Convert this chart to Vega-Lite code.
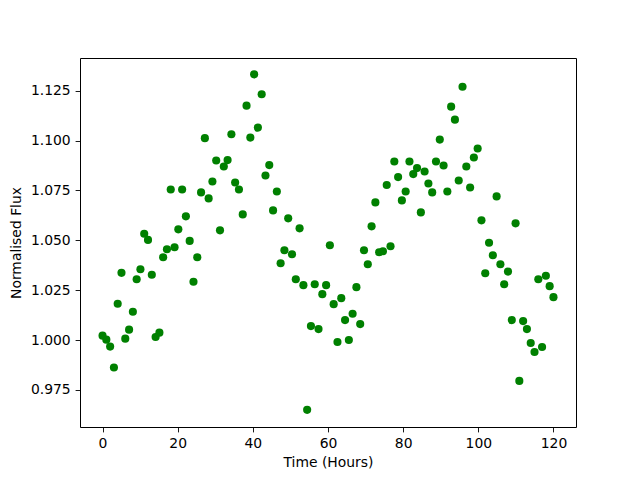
{
  "$schema": "https://vega.github.io/schema/vega-lite/v6.json",
  "width": 496,
  "height": 369,
  "autosize": {"type": "none"},
  "padding": {"left": 80, "top": 58, "right": 64, "bottom": 53},
  "background": "white",
  "config": {
    "view": {"stroke": "black", "strokeWidth": 1},
    "axis": {
      "domain": false,
      "grid": false,
      "ticks": true,
      "tickColor": "black",
      "tickSize": 4.9,
      "tickWidth": 0.9,
      "labelFont": "DejaVu Sans",
      "labelFontSize": 13.9,
      "labelColor": "black",
      "labelPadding": 4.9,
      "labelFlush": false,
      "labelOverlap": false,
      "titleFont": "DejaVu Sans",
      "titleFontSize": 13.9,
      "titleFontWeight": "normal",
      "titleColor": "black"
    }
  },
  "data": {
    "values": [
      {"t": 0, "f": 1.0022}, {"t": 1.01, "f": 1.0002}, {"t": 2.02, "f": 0.9967}, {"t": 3.03, "f": 0.9862},
      {"t": 4.03, "f": 1.0182}, {"t": 5.04, "f": 1.0337}, {"t": 6.05, "f": 1.0007}, {"t": 7.06, "f": 1.0052},
      {"t": 8.07, "f": 1.0142}, {"t": 9.08, "f": 1.0305}, {"t": 10.08, "f": 1.0355}, {"t": 11.09, "f": 1.0533},
      {"t": 12.1, "f": 1.0502}, {"t": 13.11, "f": 1.0327}, {"t": 14.12, "f": 1.0015}, {"t": 15.13, "f": 1.0037},
      {"t": 16.13, "f": 1.0415}, {"t": 17.14, "f": 1.0455}, {"t": 18.15, "f": 1.0755}, {"t": 19.16, "f": 1.0465},
      {"t": 20.17, "f": 1.0555}, {"t": 21.18, "f": 1.0755}, {"t": 22.18, "f": 1.062}, {"t": 23.19, "f": 1.0497},
      {"t": 24.2, "f": 1.0292}, {"t": 25.21, "f": 1.0415}, {"t": 26.22, "f": 1.074}, {"t": 27.23, "f": 1.1012},
      {"t": 28.24, "f": 1.071}, {"t": 29.24, "f": 1.0795}, {"t": 30.25, "f": 1.09}, {"t": 31.26, "f": 1.055},
      {"t": 32.27, "f": 1.087}, {"t": 33.28, "f": 1.0902}, {"t": 34.29, "f": 1.1032}, {"t": 35.29, "f": 1.079},
      {"t": 36.3, "f": 1.0755}, {"t": 37.31, "f": 1.063}, {"t": 38.32, "f": 1.1175}, {"t": 39.33, "f": 1.1015},
      {"t": 40.34, "f": 1.1332}, {"t": 41.34, "f": 1.1065}, {"t": 42.35, "f": 1.1232}, {"t": 43.36, "f": 1.0825},
      {"t": 44.37, "f": 1.0877}, {"t": 45.38, "f": 1.065}, {"t": 46.39, "f": 1.0745}, {"t": 47.39, "f": 1.0385},
      {"t": 48.4, "f": 1.045}, {"t": 49.41, "f": 1.061}, {"t": 50.42, "f": 1.043}, {"t": 51.43, "f": 1.0305},
      {"t": 52.44, "f": 1.056}, {"t": 53.45, "f": 1.0275}, {"t": 54.45, "f": 0.965}, {"t": 55.46, "f": 1.007},
      {"t": 56.47, "f": 1.028}, {"t": 57.48, "f": 1.0055}, {"t": 58.49, "f": 1.023}, {"t": 59.5, "f": 1.0275},
      {"t": 60.5, "f": 1.0475}, {"t": 61.51, "f": 1.018}, {"t": 62.52, "f": 0.999}, {"t": 63.53, "f": 1.021},
      {"t": 64.54, "f": 1.01}, {"t": 65.55, "f": 1.0}, {"t": 66.55, "f": 1.0132}, {"t": 67.56, "f": 1.0265},
      {"t": 68.57, "f": 1.008}, {"t": 69.58, "f": 1.045}, {"t": 70.59, "f": 1.038}, {"t": 71.6, "f": 1.057},
      {"t": 72.61, "f": 1.069}, {"t": 73.61, "f": 1.044}, {"t": 74.62, "f": 1.0445}, {"t": 75.63, "f": 1.0777},
      {"t": 76.64, "f": 1.047}, {"t": 77.65, "f": 1.0895}, {"t": 78.66, "f": 1.0817}, {"t": 79.66, "f": 1.07},
      {"t": 80.67, "f": 1.0745}, {"t": 81.68, "f": 1.0895}, {"t": 82.69, "f": 1.0832}, {"t": 83.7, "f": 1.0862},
      {"t": 84.71, "f": 1.064}, {"t": 85.71, "f": 1.0845}, {"t": 86.72, "f": 1.0785}, {"t": 87.73, "f": 1.074},
      {"t": 88.74, "f": 1.0895}, {"t": 89.75, "f": 1.1005}, {"t": 90.76, "f": 1.0875}, {"t": 91.76, "f": 1.0745},
      {"t": 92.77, "f": 1.117}, {"t": 93.78, "f": 1.1105}, {"t": 94.79, "f": 1.08}, {"t": 95.8, "f": 1.127},
      {"t": 96.81, "f": 1.087}, {"t": 97.82, "f": 1.0765}, {"t": 98.82, "f": 1.0915}, {"t": 99.83, "f": 1.096},
      {"t": 100.84, "f": 1.06}, {"t": 101.85, "f": 1.0335}, {"t": 102.86, "f": 1.0488}, {"t": 103.87, "f": 1.0425},
      {"t": 104.87, "f": 1.072}, {"t": 105.88, "f": 1.038}, {"t": 106.89, "f": 1.028}, {"t": 107.9, "f": 1.0343},
      {"t": 108.91, "f": 1.01}, {"t": 109.92, "f": 1.0585}, {"t": 110.92, "f": 0.9795}, {"t": 111.93, "f": 1.0095},
      {"t": 112.94, "f": 1.0055}, {"t": 113.95, "f": 0.9985}, {"t": 114.96, "f": 0.994}, {"t": 115.97, "f": 1.0305},
      {"t": 116.97, "f": 0.9965}, {"t": 117.98, "f": 1.0322}, {"t": 118.99, "f": 1.027}, {"t": 120, "f": 1.0215}
    ]
  },
  "mark": {"type": "point", "filled": true, "shape": "circle", "size": 66, "color": "#008000", "opacity": 1},
  "encoding": {
    "x": {
      "field": "t",
      "type": "quantitative",
      "scale": {"domain": [-6, 126], "nice": false, "zero": false},
      "axis": {"values": [0, 20, 40, 60, 80, 100, 120], "title": "Time (Hours)", "titlePadding": 5}
    },
    "y": {
      "field": "f",
      "type": "quantitative",
      "scale": {"domain": [0.9564, 1.1414], "nice": false, "zero": false},
      "axis": {"values": [0.975, 1.0, 1.025, 1.05, 1.075, 1.1, 1.125], "format": ".3f", "title": "Normalised Flux", "titlePadding": 7}
    }
  }
}
